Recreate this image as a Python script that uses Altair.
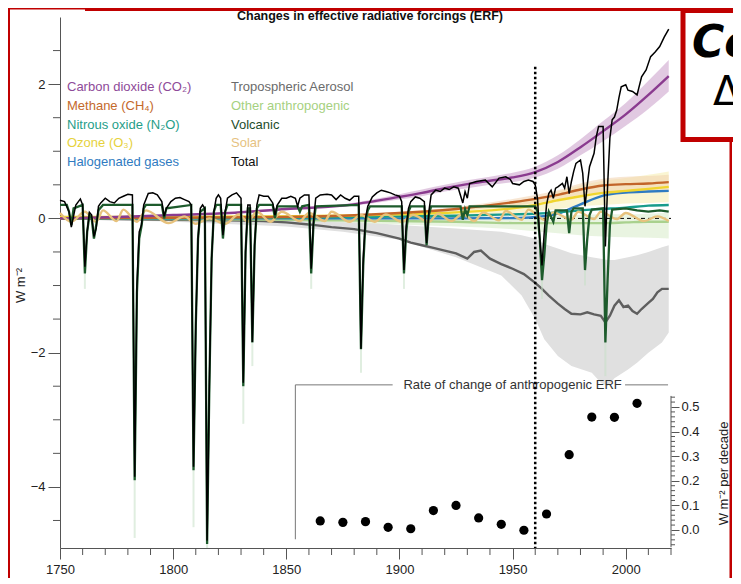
import altair as alt
import pandas as pd

FONT = "Liberation Sans"

# ---------------- data ----------------
SM_YEARS = [1750, 1800, 1850, 1875, 1900, 1925, 1950, 1960, 1970, 1980, 1990, 2000, 2010, 2019]
CH4 = [0.0, 0.01, 0.02, 0.04, 0.08, 0.14, 0.24, 0.29, 0.35, 0.43, 0.49, 0.51, 0.52, 0.54]
CH4_LO = [0.0, 0.01, 0.02, 0.03, 0.06, 0.11, 0.19, 0.23, 0.28, 0.35, 0.39, 0.41, 0.42, 0.43]
CH4_HI = [0.0, 0.01, 0.03, 0.05, 0.10, 0.17, 0.29, 0.35, 0.42, 0.52, 0.59, 0.62, 0.63, 0.65]
O3 = [0.02, 0.02, 0.03, 0.04, 0.06, 0.09, 0.15, 0.20, 0.27, 0.33, 0.38, 0.41, 0.44, 0.47]
O3_LO = [0.01, 0.01, 0.01, 0.02, 0.03, 0.05, 0.08, 0.10, 0.14, 0.18, 0.20, 0.22, 0.23, 0.24]
O3_HI = [0.03, 0.03, 0.05, 0.06, 0.09, 0.13, 0.22, 0.30, 0.40, 0.49, 0.56, 0.60, 0.65, 0.70]
N2O = [0.0, 0.0, 0.01, 0.02, 0.03, 0.04, 0.06, 0.07, 0.09, 0.12, 0.14, 0.16, 0.19, 0.20]
HALO = [0.0, 0.0, 0.0, 0.0, 0.0, 0.0, 0.005, 0.02, 0.07, 0.21, 0.34, 0.385, 0.40, 0.41]
OTHER = [0.0, -0.01, -0.02, -0.03, -0.04, -0.05, -0.07, -0.07, -0.07, -0.07, -0.07, -0.06, -0.05, -0.05]
OTHER_LO = [0.0, -0.02, -0.04, -0.06, -0.09, -0.12, -0.16, -0.19, -0.22, -0.25, -0.27, -0.28, -0.29, -0.30]
OTHER_HI = [0.0, 0.0, 0.0, 0.01, 0.01, 0.02, 0.02, 0.03, 0.04, 0.05, 0.06, 0.06, 0.07, 0.08]

CO2_YEARS = [1750, 1775, 1800, 1825, 1850, 1875, 1900, 1910, 1920, 1930, 1940, 1950, 1960, 1970, 1980, 1990, 2000, 2010, 2019]
CO2 = [0.0, 0.02, 0.05, 0.08, 0.14, 0.19, 0.32, 0.38, 0.45, 0.51, 0.56, 0.61, 0.69, 0.84, 1.06, 1.30, 1.55, 1.84, 2.12]
CO2_LO = [0.0, 0.02, 0.04, 0.07, 0.12, 0.17, 0.28, 0.33, 0.40, 0.45, 0.50, 0.54, 0.61, 0.74, 0.94, 1.15, 1.38, 1.63, 1.89]
CO2_HI = [0.0, 0.02, 0.06, 0.09, 0.16, 0.21, 0.36, 0.43, 0.50, 0.57, 0.62, 0.68, 0.77, 0.94, 1.18, 1.45, 1.72, 2.05, 2.36]

AER_YEARS = [1750, 1775, 1800, 1825, 1840, 1850, 1860, 1870, 1880, 1890, 1900, 1905, 1910, 1915, 1920, 1925, 1930,
             1933, 1936, 1940, 1945, 1950, 1955, 1960, 1963, 1966, 1970, 1973, 1976, 1980, 1983, 1986, 1989, 1991,
             1993, 1995, 1997, 1999, 2001, 2003, 2005, 2007, 2010, 2012, 2014, 2016, 2019]
AER = [0.0, -0.01, -0.02, -0.03, -0.04, -0.06, -0.09, -0.13, -0.16, -0.22, -0.30, -0.36, -0.40, -0.44, -0.48, -0.52,
       -0.60, -0.50, -0.48, -0.60, -0.68, -0.75, -0.83, -0.96, -1.05, -1.15, -1.27, -1.35, -1.42, -1.43, -1.40, -1.43,
       -1.45, -1.55, -1.45, -1.30, -1.22, -1.32, -1.30, -1.38, -1.42, -1.35, -1.26, -1.20, -1.10, -1.05, -1.05]
AER_BAND_YEARS = [1750, 1800, 1850, 1875, 1900, 1925, 1945, 1954, 1960, 1964, 1970, 1976, 1985, 1989, 1992, 1995,
                  2001, 2005, 2010, 2016, 2019]
AER_LO = [0.0, -0.05, -0.12, -0.20, -0.32, -0.58, -0.85, -1.15, -1.50, -1.80, -2.05, -2.20, -2.30, -2.45, -2.50,
          -2.38, -2.25, -2.15, -2.00, -1.85, -1.70]
AER_HI = [0.0, 0.0, -0.01, -0.03, -0.10, -0.15, -0.20, -0.25, -0.30, -0.38, -0.45, -0.52, -0.58, -0.60, -0.62,
          -0.62, -0.58, -0.55, -0.50, -0.43, -0.40]

SOLAR = [(1750, 0.08), (1755, -0.05), (1761, 0.10), (1766, -0.05), (1769, 0.12), (1775, -0.04), (1778, 0.13),
         (1784, -0.05), (1788, 0.12), (1798, -0.07), (1805, 0.03), (1810, -0.08), (1816, 0.0), (1823, -0.08),
         (1829, 0.06), (1833, -0.05), (1837, 0.10), (1843, -0.05), (1848, 0.10), (1856, -0.04), (1860, 0.08),
         (1867, -0.04), (1870, 0.10), (1878, -0.05), (1883, 0.05), (1889, -0.05), (1894, 0.06), (1901, -0.05),
         (1906, 0.05), (1913, -0.05), (1917, 0.07), (1923, -0.04), (1928, 0.07), (1933, -0.04), (1937, 0.09),
         (1944, -0.03), (1947, 0.11), (1954, -0.02), (1957, 0.13), (1964, -0.02), (1968, 0.09), (1976, -0.02),
         (1979, 0.10), (1986, -0.01), (1989, 0.10), (1996, -0.01), (2000, 0.08), (2008, -0.04), (2014, 0.03),
         (2019, -0.04)]

VOLCANIC = [(1750, 0.2), (1753, 0.2), (1754, 0.1), (1755, -0.1), (1756, 0.15), (1760, 0.2), (1761, -0.82),
            (1762, -0.2), (1763, 0.05), (1764, 0.0), (1765, -0.3), (1766, -0.1), (1767, 0.12), (1769, 0.2),
            (1782, 0.2), (1783, -3.9), (1784, -1.1), (1785, -0.3), (1786, -0.12), (1787, 0.15), (1788, 0.2),
            (1795, 0.2), (1796, 0.0), (1797, 0.15), (1808, 0.2), (1809, -3.75), (1810, -1.6), (1811, -0.3),
            (1812, 0.1), (1814, 0.15), (1815, -4.85), (1816, -2.5), (1817, -0.6), (1818, 0.1), (1819, 0.2),
            (1821, 0.2), (1822, -0.3), (1823, 0.1), (1824, 0.2), (1830, 0.2), (1831, -2.5), (1832, -0.5),
            (1833, 0.15), (1834, 0.15), (1835, -1.85), (1836, -0.4), (1837, 0.15), (1838, 0.2), (1844, 0.2),
            (1845, 0.0), (1846, 0.18), (1855, 0.18), (1856, 0.1), (1857, 0.18), (1860, 0.2), (1861, -0.82),
            (1862, -0.1), (1863, 0.18), (1882, 0.2), (1883, -1.95), (1884, -0.7), (1885, -0.05), (1886, 0.12),
            (1887, 0.18), (1901, 0.18), (1902, -0.82), (1903, -0.2), (1904, 0.1), (1905, 0.18), (1911, 0.18),
            (1912, -0.4), (1913, 0.05), (1914, 0.18), (1927, 0.18), (1928, -0.02), (1929, 0.14), (1930, 0.05),
            (1931, 0.18), (1960, 0.18), (1961, 0.1), (1962, -0.3), (1963, -0.92), (1964, -0.55), (1965, -0.1),
            (1966, 0.1), (1968, -0.05), (1969, 0.12), (1974, 0.12), (1975, -0.22), (1976, 0.1), (1977, 0.15),
            (1981, 0.15), (1982, -0.77), (1983, -0.3), (1984, 0.05), (1985, 0.13), (1990, 0.15), (1991, -1.85),
            (1992, -0.9), (1993, -0.1), (1994, 0.13), (2000, 0.15), (2005, 0.12), (2010, 0.1), (2015, 0.12),
            (2019, 0.1)]

# eruption year, bottom of line, bottom of faint uncertainty
VOLC_FADE = [(1761, -0.82, -1.05), (1783, -3.9, -4.76), (1809, -3.75, -4.6), (1815, -4.85, -4.91),
             (1831, -2.5, -3.06), (1835, -1.85, -2.2), (1861, -0.82, -1.05), (1883, -1.95, -2.3),
             (1902, -0.82, -1.05), (1963, -0.92, -1.2), (1982, -0.77, -1.0), (1991, -1.85, -2.35)]

TOTAL = [(1750, 0.27), (1752, 0.25), (1754, 0.1), (1755, -0.13), (1757, 0.2), (1759, 0.29), (1760, 0.2),
         (1761, -0.72), (1762, -0.2), (1763, 0.09), (1764, 0.05), (1765, -0.27), (1766, -0.15), (1767, 0.18),
         (1768, 0.23), (1770, 0.3), (1772, 0.25), (1774, 0.23), (1776, 0.3), (1778, 0.33), (1780, 0.36),
         (1782, 0.35), (1783, -3.85), (1784, -1.0), (1785, -0.2), (1786, -0.1), (1787, 0.2), (1789, 0.37),
         (1791, 0.38), (1793, 0.35), (1795, 0.25), (1796, 0.03), (1797, 0.15), (1799, 0.25), (1801, 0.3),
         (1803, 0.31), (1805, 0.28), (1807, 0.25), (1808, 0.2), (1809, -3.7), (1810, -1.6), (1811, -0.3),
         (1812, 0.15), (1813, 0.2), (1814, 0.15), (1815, -4.8), (1816, -2.5), (1817, -0.6), (1818, 0.1),
         (1819, 0.3), (1820, 0.35), (1821, 0.3), (1822, -0.25), (1823, 0.1), (1824, 0.3), (1826, 0.35),
         (1828, 0.38), (1830, 0.3), (1831, -2.45), (1832, -0.5), (1833, 0.2), (1834, 0.2), (1835, -1.84),
         (1836, -0.4), (1837, 0.2), (1838, 0.35), (1840, 0.33), (1842, 0.33), (1844, 0.23), (1845, 0.05),
         (1846, 0.2), (1848, 0.3), (1850, 0.3), (1852, 0.33), (1854, 0.3), (1855, 0.18), (1856, 0.3),
         (1858, 0.35), (1860, 0.35), (1861, -0.75), (1862, -0.05), (1863, 0.3), (1865, 0.35), (1868, 0.36),
         (1870, 0.35), (1872, 0.28), (1874, 0.35), (1876, 0.3), (1878, 0.27), (1880, 0.33), (1882, 0.33),
         (1883, -1.94), (1884, -0.6), (1885, 0.0), (1886, 0.18), (1888, 0.32), (1890, 0.38), (1892, 0.42),
         (1894, 0.4), (1896, 0.38), (1898, 0.35), (1900, 0.33), (1901, 0.25), (1902, -0.77), (1903, -0.1),
         (1904, 0.15), (1905, 0.25), (1907, 0.32), (1909, 0.3), (1911, 0.25), (1912, -0.37), (1913, 0.1),
         (1914, 0.35), (1916, 0.42), (1918, 0.4), (1920, 0.45), (1922, 0.43), (1924, 0.47), (1926, 0.45),
         (1928, 0.23), (1929, 0.4), (1930, 0.3), (1931, 0.52), (1934, 0.55), (1938, 0.57), (1941, 0.47),
         (1944, 0.6), (1947, 0.62), (1949, 0.58), (1950, 0.52), (1953, 0.5), (1955, 0.55), (1957, 0.57),
         (1959, 0.55), (1960, 0.5), (1961, 0.3), (1962, -0.3), (1963, -0.7), (1964, -0.2), (1965, 0.2),
         (1966, 0.37), (1967, 0.42), (1968, 0.3), (1969, 0.45), (1970, 0.47), (1972, 0.52), (1973, 0.45),
         (1974, 0.62), (1975, 0.37), (1976, 0.55), (1977, 0.7), (1978, 0.82), (1980, 0.87), (1981, 0.67),
         (1982, 0.18), (1983, 0.5), (1984, 0.77), (1986, 0.97), (1987, 1.22), (1988, 1.37), (1990, 1.37),
         (1991, -0.42), (1992, 0.5), (1993, 1.2), (1994, 1.47), (1995, 1.51), (1996, 1.61), (1997, 1.8),
         (1998, 1.96), (2000, 1.99), (2001, 1.91), (2003, 1.89), (2005, 1.84), (2007, 2.11), (2009, 2.21),
         (2011, 2.41), (2013, 2.48), (2015, 2.56), (2017, 2.7), (2019, 2.82)]

RATE_YEARS = [1865, 1875, 1885, 1895, 1905, 1915, 1925, 1935, 1945, 1955, 1965, 1975, 1985, 1995, 2005]
RATE = [0.037, 0.031, 0.034, 0.011, 0.005, 0.079, 0.100, 0.049, 0.023, -0.001, 0.065, 0.306, 0.459, 0.458, 0.515]

X_MAJOR = [1750, 1800, 1850, 1900, 1950, 2000]
X_MINOR = [1760, 1770, 1780, 1790, 1810, 1820, 1830, 1840, 1860, 1870, 1880, 1890, 1910, 1920, 1930, 1940,
           1960, 1970, 1980, 1990, 2010, 2020]
Y_MAJOR = [-4, -2, 0, 2]
Y_MINOR = [-4.5, -3.5, -3, -2.5, -1.5, -1, -0.5, 0.5, 1, 1.5, 2.5]
R_MAJOR = [0.0, 0.1, 0.2, 0.3, 0.4, 0.5]
R_MINOR = [-0.06, -0.04, -0.02, 0.02, 0.04, 0.06, 0.08, 0.12, 0.14, 0.16, 0.18, 0.22, 0.24, 0.26, 0.28,
           0.32, 0.34, 0.36, 0.38, 0.42, 0.44, 0.46, 0.48, 0.52, 0.54]

LEGEND_LEFT = [("Carbon dioxide (CO₂)", "#8e4a99"), ("Methane (CH₄)", "#c4692c"),
               ("Nitrous oxide (N₂O)", "#1f9e89"), ("Ozone (O₃)", "#e6d23c"),
               ("Halogenated gases", "#2f7bc1")]
LEGEND_RIGHT = [("Tropospheric Aerosol", "#6b6b6b"), ("Other anthropogenic", "#a6d17f"),
                ("Volcanic", "#1e4d2b"), ("Solar", "#e6c27f"), ("Total", "#111111")]

# ---------------- chart ----------------
W, H = 611, 531
XS = alt.Scale(domain=[1750, 2020], nice=False, zero=False)
YS = alt.Scale(domain=[-4.91, 3.0], nice=False, zero=False)
YS2 = alt.Scale(domain=[-0.0732, 2.0854], nice=False, zero=False)
AXC = "#555555"

XAX = alt.Axis(values=X_MAJOR, format="d", title=None, grid=False, tickSize=11, tickColor=AXC,
               domainColor=AXC, labelFont=FONT, labelFontSize=13, labelColor="#222",
               labelPadding=4, labelOverlap=False, labelFlush=False)
YAX = alt.Axis(values=Y_MAJOR, format="d", title="W m⁻²", grid=False, tickSize=12, tickColor=AXC,
               domainColor=AXC, labelFont=FONT, labelFontSize=13, labelColor="#222", labelPadding=3,
               titleFont=FONT, titleFontSize=13, titleFontWeight="normal", titleColor="#222",
               titleAngle=270, titleX=-40, titleY=268, titleAlign="center", titleBaseline="middle")
RAX = alt.Axis(orient="right", values=R_MAJOR, format=".1f", title="W m⁻² per decade", grid=False,
               domain=False, tickSize=8, tickColor=AXC, labelFont=FONT, labelFontSize=13,
               labelColor="#222", labelPadding=2, titleFont=FONT, titleFontSize=13,
               titleFontWeight="normal", titleColor="#222", titleAngle=270, titleX=52, titleY=456,
               titleAlign="center", titleBaseline="middle")

X = alt.X("year:Q", scale=XS, axis=XAX)


def ymain(field):
    return alt.Y(field, type="quantitative", scale=YS, axis=YAX)


def band(years, lo, hi, color, opacity=1.0, interp="monotone"):
    df = pd.DataFrame({"year": years, "lo": lo, "hi": hi})
    return alt.Chart(df).mark_area(color=color, opacity=opacity, interpolate=interp).encode(
        x=X, y=ymain("lo"), y2="hi")


def line(years, vals, color, width, interp="monotone"):
    df = pd.DataFrame({"year": years, "value": vals})
    return alt.Chart(df).mark_line(color=color, strokeWidth=width, interpolate=interp).encode(
        x=X, y=ymain("value"))


def unzip(pairs):
    return [p[0] for p in pairs], [p[1] for p in pairs]


one = pd.DataFrame({"a": [0]})


def pix_rect(x, x2, y, y2, **kw):
    return alt.Chart(one).mark_rect(**kw).encode(
        x=alt.value(x), x2=alt.value(x2), y=alt.value(y), y2=alt.value(y2))


def pix_text(txt, x, y, **kw):
    return alt.Chart(one).mark_text(**kw).encode(x=alt.value(x), y=alt.value(y), text=alt.value(txt))


layers = []
# bands
layers.append(band(AER_BAND_YEARS, AER_LO, AER_HI, "#e0e0e0", 1.0, "linear"))
layers.append(band(SM_YEARS, OTHER_LO, OTHER_HI, "#e4f1da", 0.8))
layers.append(band(SM_YEARS, O3_LO, O3_HI, "#f6eeb4", 0.6))
layers.append(band(SM_YEARS, CH4_LO, CH4_HI, "#f0d2ae", 0.55))
layers.append(band(CO2_YEARS, CO2_LO, CO2_HI, "#dcc0dc", 0.85))

# zero line
zero_df = pd.DataFrame({"year": [1750], "year2": [2020], "v": [0.0]})
layers.append(alt.Chart(zero_df).mark_rule(color="black", strokeWidth=1, strokeDash=[4, 3]).encode(
    x=X, x2="year2", y=ymain("v")))

# lines
layers.append(line(AER_YEARS, AER, "#5f5f5f", 2.4, "linear"))
layers.append(line(SM_YEARS, OTHER, "#a9d18e", 2.4))
layers.append(line(SM_YEARS, HALO, "#2f7bc2", 2.4))
layers.append(line(SM_YEARS, N2O, "#189c8c", 2.4))
layers.append(line(SM_YEARS, O3, "#f0d52e", 2.4))
layers.append(line(SM_YEARS, CH4, "#c2652a", 2.4))
layers.append(line(CO2_YEARS, CO2, "#8a3b8f", 2.4))
sy, sv = unzip(SOLAR)
layers.append(line(sy, sv, "#e7c27d", 2.4))

fade_df = pd.DataFrame({"year": [f[0] for f in VOLC_FADE], "top": [f[1] for f in VOLC_FADE],
                        "bot": [f[2] for f in VOLC_FADE]})
layers.append(alt.Chart(fade_df).mark_rule(color="#c6e0c6", strokeWidth=2, opacity=0.55).encode(
    x=X, y=ymain("top"), y2="bot"))
vy, vv = unzip(VOLCANIC)
layers.append(line(vy, vv, "#1d5b2c", 2.3, "linear"))
ty, tv = unzip(TOTAL)
layers.append(line(ty, tv, "#000000", 1.5, "linear"))

# minor ticks of main axes
layers.append(alt.Chart(pd.DataFrame({"year": X_MINOR})).mark_rule(color=AXC, strokeWidth=1).encode(
    x=X, y=alt.value(H), y2=alt.value(H + 7)))
layers.append(alt.Chart(pd.DataFrame({"v": Y_MINOR})).mark_rule(color=AXC, strokeWidth=1).encode(
    x=alt.value(-7), x2=alt.value(0), y=ymain("v")))

# inset frame and its label
frame_v = pd.DataFrame({"year": [1854], "v": [-2.48], "v2": [-4.78]})
layers.append(alt.Chart(frame_v).mark_rule(color="#777", strokeWidth=1).encode(x=X, y=ymain("v"), y2="v2"))
frame_h = pd.DataFrame({"year": [1854, 1999.7], "year2": [1897, 2018.7], "v": [-2.48, -2.48]})
layers.append(alt.Chart(frame_h).mark_rule(color="#777", strokeWidth=1).encode(x=X, x2="year2", y=ymain("v")))
lab_df = pd.DataFrame({"year": [1950.0], "v": [-2.48]})
layers.append(alt.Chart(lab_df).mark_text(font=FONT, fontSize=13, color="#333", align="center",
                                          baseline="middle").encode(
    x=X, y=ymain("v"), text=alt.value("Rate of change of anthropogenic ERF")))

# dotted 1960 line
dot_df = pd.DataFrame({"year": [1960], "v": [2.26], "v2": [-4.91]})
layers.append(alt.Chart(dot_df).mark_rule(color="black", strokeWidth=2.5, strokeDash=[2.5, 2.5]).encode(
    x=X, y=ymain("v"), y2="v2"))

# legend texts
ys = [69.7, 89.2, 107.5, 126.0, 145.3]
for (txt, col), yy in zip(LEGEND_LEFT, ys):
    layers.append(pix_text(txt, 7, yy, font=FONT, fontSize=13, color=col, align="left", baseline="middle"))
for (txt, col), yy in zip(LEGEND_RIGHT, ys):
    layers.append(pix_text(txt, 171, yy, font=FONT, fontSize=13, color=col, align="left", baseline="middle"))

# title
layers.append(pix_text("Changes in effective radiative forcings (ERF)", 310, -1, font=FONT, fontSize=12.5,
                       fontWeight="bold", color="#111", align="center", baseline="middle"))

# red frame decorations (the svg spans page x 8..733, y 8..578)
RED = "#c00000"
layers.append(pix_rect(-52, -50, -9, 561, color=RED))
layers.append(pix_rect(-52, 25, -9, -7.5, color=RED))
layers.append(pix_rect(25, 690, -9, -6, color=RED))
layers.append(pix_rect(623, 690, -6.5, 122.5, fill="white", stroke=RED, strokeWidth=5))
layers.append(pix_rect(669.5, 672, 122, 561, color=RED))
layers.append(pix_text("Co", 632, 40, font="DejaVu Sans", fontSize=44, fontStyle="italic", fontWeight="bold",
                       color="black", align="left", baseline="alphabetic"))
layers.append(pix_text("Δ", 653, 88, font="DejaVu Sans", fontSize=40, color="black",
                       align="left", baseline="alphabetic"))

main = alt.layer(*layers)

# inset (rate of change) with its own right axis
YR = alt.Y("rate:Q", scale=YS2, axis=RAX)
rate_df = pd.DataFrame({"year": RATE_YEARS, "rate": RATE})
pts = alt.Chart(rate_df).mark_circle(color="black", opacity=1, size=85).encode(x=X, y=YR)
rax_line = alt.Chart(pd.DataFrame({"rate": [-0.07], "r2": [0.545]})).mark_rule(color=AXC, strokeWidth=1).encode(
    x=alt.value(W), y=YR, y2="r2")
rminor = alt.Chart(pd.DataFrame({"rate": R_MINOR})).mark_rule(color=AXC, strokeWidth=1).encode(
    x=alt.value(W), x2=alt.value(W + 4), y=YR)
inset = alt.layer(pts, rax_line, rminor)

chart = alt.layer(main, inset).resolve_scale(y="independent").properties(
    width=W, height=H,
    padding={"left": 52, "top": 9, "right": 62, "bottom": 30},
    autosize=alt.AutoSizeParams(type="none"),
).configure_view(stroke=None)

chart.save("out.html", embed_options={"renderer": "svg", "actions": False})
